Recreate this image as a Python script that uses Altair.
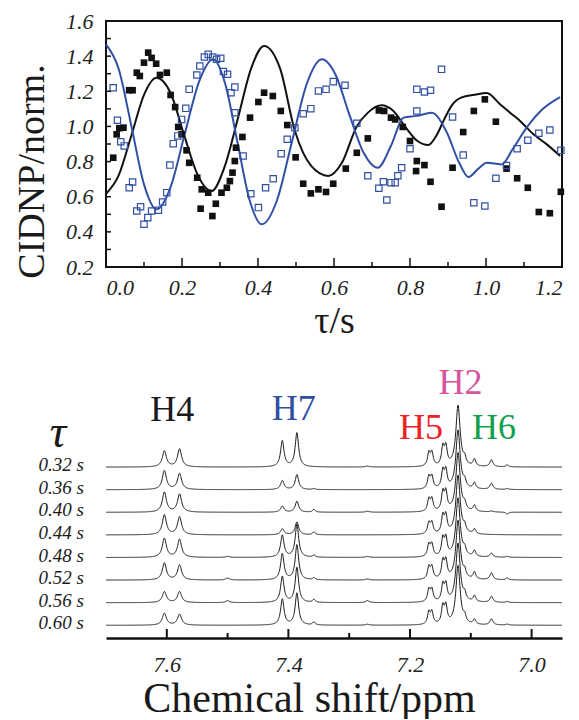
import altair as alt
import numpy as np
import pandas as pd

FONT = "Liberation Serif"
BLUE = "#3150a5"

# ---------------- top panel data ----------------
black_tau = [0.019, 0.028, 0.035, 0.046, 0.061, 0.070, 0.081, 0.089, 0.100, 0.111, 0.120, 0.132,
             0.142, 0.160, 0.170, 0.182, 0.190, 0.199, 0.212, 0.219, 0.240, 0.249, 0.252, 0.269,
             0.280, 0.289, 0.304, 0.318, 0.326, 0.333, 0.339, 0.342, 0.359, 0.379, 0.401, 0.416,
             0.439, 0.460, 0.477, 0.499, 0.519, 0.539, 0.559, 0.579, 0.598, 0.631, 0.660, 0.689,
             0.718, 0.732, 0.750, 0.761, 0.781, 0.800, 0.816, 0.818, 0.838, 0.854, 0.883, 0.912,
             0.940, 0.968, 0.997, 1.026, 1.054, 1.082, 1.110, 1.139, 1.168, 1.197]
black_val = [0.822, 0.955, 0.990, 0.993, 1.206, 1.206, 1.306, 1.287, 1.363, 1.420, 1.390, 1.357,
             1.293, 1.306, 1.179, 1.110, 0.997, 0.955, 0.864, 0.793, 0.708, 0.532, 0.642, 0.623,
             0.490, 0.560, 0.623, 0.651, 0.689, 0.737, 0.803, 0.879, 0.940, 1.050, 1.139, 1.192,
             1.173, 1.088, 1.008, 0.824, 0.674, 0.619, 0.642, 0.627, 0.674, 0.760, 0.850, 0.932,
             1.091, 1.088, 1.050, 1.040, 0.997, 0.917, 0.746, 0.803, 0.780, 0.685, 0.543, 0.765,
             0.968, 1.088, 1.154, 1.027, 0.760, 0.705, 0.651, 0.513, 0.506, 0.628]

blue_tau = [0.019, 0.030, 0.039, 0.048, 0.061, 0.070, 0.081, 0.091, 0.100, 0.110, 0.120, 0.138,
            0.149, 0.160, 0.168, 0.177, 0.189, 0.199, 0.210, 0.219, 0.239, 0.247, 0.259, 0.269,
            0.281, 0.291, 0.302, 0.309, 0.320, 0.329, 0.339, 0.339, 0.361, 0.381, 0.401, 0.420,
            0.440, 0.461, 0.477, 0.497, 0.519, 0.539, 0.559, 0.579, 0.598, 0.629, 0.660, 0.689,
            0.718, 0.730, 0.739, 0.750, 0.761, 0.768, 0.778, 0.800, 0.818, 0.818, 0.838, 0.854,
            0.883, 0.912, 0.940, 0.968, 0.997, 1.026, 1.054, 1.082, 1.110, 1.139, 1.168, 1.197]
blue_val = [1.220, 1.035, 0.913, 0.889, 0.651, 0.684, 0.519, 0.543, 0.443, 0.481, 0.519, 0.523,
            0.570, 0.623, 0.780, 0.902, 0.946, 1.040, 1.103, 1.211, 1.293, 1.344, 1.395, 1.410,
            1.395, 1.382, 1.388, 1.312, 1.297, 1.192, 1.224, 1.078, 0.832, 0.617, 0.538, 0.651,
            0.702, 0.845, 0.927, 0.993, 1.072, 1.101, 1.202, 1.211, 1.255, 1.234, 1.018, 0.719,
            0.648, 0.685, 0.581, 0.680, 0.680, 0.719, 0.765, 0.873, 1.088, 1.211, 1.196, 1.206,
            1.325, 1.054, 0.837, 0.566, 0.547, 0.705, 0.778, 0.873, 0.921, 0.961, 0.980, 0.864]

black_fit_tau = [0.000, 0.033, 0.067, 0.100, 0.133, 0.170, 0.205, 0.240, 0.278, 0.312, 0.347,
                 0.382, 0.416, 0.458, 0.497, 0.540, 0.585, 0.620, 0.660, 0.690, 0.725, 0.755,
                 0.785, 0.818, 0.848, 0.870, 0.890, 0.910, 0.936, 0.970, 1.002, 1.037, 1.065,
                 1.089, 1.125, 1.160, 1.195]
black_fit_val = [0.617, 0.720, 0.950, 1.180, 1.277, 1.190, 0.955, 0.730, 0.632, 0.770, 1.045,
                 1.330, 1.458, 1.330, 0.975, 0.775, 0.718, 0.790, 1.000, 1.080, 1.120, 1.090,
                 1.005, 0.920, 0.894, 0.950, 1.040, 1.120, 1.165, 1.180, 1.190, 1.126, 1.075,
                 1.033, 0.955, 0.898, 0.832]

blue_fit_tau = [0.000, 0.033, 0.067, 0.100, 0.133, 0.170, 0.207, 0.245, 0.282, 0.314, 0.346,
                0.378, 0.410, 0.450, 0.489, 0.528, 0.568, 0.605, 0.640, 0.678, 0.715, 0.750,
                0.783, 0.818, 0.857, 0.896, 0.930, 0.954, 0.980, 1.002, 1.041, 1.070, 1.107,
                1.150, 1.195]
blue_fit_val = [1.467, 1.330, 1.000, 0.670, 0.528, 0.655, 0.955, 1.255, 1.382, 1.240, 0.910,
                0.580, 0.443, 0.580, 0.910, 1.240, 1.382, 1.290, 1.070, 0.850, 0.765, 0.890,
                1.050, 1.060, 1.078, 0.970, 0.790, 0.712, 0.760, 0.793, 0.784, 0.870, 0.993,
                1.100, 1.167]

top_y_ticks = [0.2, 0.3, 0.4, 0.5, 0.6, 0.7, 0.8, 0.9, 1.0, 1.1, 1.2, 1.3, 1.4, 1.5, 1.6]
top_y_labels = [0.2, 0.4, 0.6, 0.8, 1.0, 1.2, 1.4, 1.6]
top_x_major = [0.0, 0.2, 0.4, 0.6, 0.8, 1.0, 1.2]
top_x_minor = [0.1, 0.3, 0.5, 0.7, 0.9, 1.1]

# ---------------- bottom panel data ----------------
tau_labels = ["0.32 s", "0.36 s", "0.40 s", "0.44 s", "0.48 s", "0.52 s", "0.56 s", "0.60 s"]
trace_offset = [170.9, 148.3, 125.7, 103.1, 80.5, 57.9, 35.3, 12.7]

peak_ppm = [7.604, 7.579, 7.500, 7.410, 7.386, 7.358, 7.270, 7.169, 7.164, 7.146, 7.141,
            7.121, 7.110, 7.094, 7.066, 7.040]
peak_hwhm = [0.0040, 0.0040, 0.0035, 0.0034, 0.0034, 0.0025, 0.0035, 0.0026, 0.0026, 0.0026,
             0.0026, 0.0042, 0.0024, 0.0026, 0.0030, 0.0025]
peak_heights = [
    [16, 19, 20, 20, 19, 17, 11, 12],
    [18, 16, 18, 18, 18, 15, 11, 11],
    [0, 0, 0, 0, 1, 2, 2, 0],
    [26, 9, 6, 6, 22, 26, 26, 26],
    [34, 15, 11, 13, 33, 35, 35, 32],
    [0, 1, 3, 3, 2, 2, 3, 3],
    [1, 0, 1, 0, 1, 1, 2, 1],
    [13, 12, 12, 11, 12, 12, 12, 12],
    [13, 12, 12, 11, 12, 12, 12, 12],
    [18, 17, 18, 17, 17, 17, 16, 17],
    [18, 17, 18, 17, 17, 17, 16, 17],
    [61, 59, 59, 59, 59, 59, 59, 59],
    [6, 6, 6, 6, 6, 6, 6, 6],
    [7, 6, 6, 5, 6, 7, 6, 5],
    [7, 6, 1, 0, 4, 7, 6, 6],
    [2, 1, -2, 0, 1, 2, 1, 1],
]

bottom_major = [7.6, 7.4, 7.2, 7.0]
bottom_minor = [7.5, 7.3, 7.1]

label_text = ["H4", "H7", "H2", "H5", "H6"]
label_ppm = [7.591, 7.391, 7.117, 7.182, 7.062]
label_y = [228, 229, 255, 210, 210]
label_color = ["#1a1a1a", "#2f4fa3", "#d6559e", "#ec2227", "#12a04b"]
tau_symbol_y = 205

# ---------------- build spectra ----------------
grid = np.round(np.arange(6.95, 7.70001, 0.0005), 4)
rows = []
for i, lab in enumerate(tau_labels):
    y = np.full(grid.shape, trace_offset[i], dtype=float)
    for p, g, hs in zip(peak_ppm, peak_hwhm, peak_heights):
        y += hs[i] / (1.0 + ((grid - p) / g) ** 2)
    for xv, yv in zip(grid, y):
        rows.append({"ppm": float(xv), "y": round(float(yv), 2), "tau": lab})
spec_df = pd.DataFrame(rows)

# ---------------- top chart ----------------
W = 456
H_TOP = 246
H_BOT = 268

x_axis_top = alt.Axis(values=top_x_major, format=".1f", title="τ/s", ticks=False, domain=False,
                      grid=False, labelPadding=10, titlePadding=4, labelFontStyle="italic",
                      labelFontSize=22, titleFontSize=38)
y_axis_top = alt.Axis(values=top_y_labels, format=".1f", title="CIDNP/norm.", ticks=False,
                      domain=False, grid=False, labelPadding=13, titlePadding=14,
                      labelFontStyle="italic", labelFontSize=22, titleFontSize=38, titleY=150)
xs = alt.Scale(domain=[0, 1.2], nice=False, zero=False)
ys = alt.Scale(domain=[0.2, 1.6], nice=False, zero=False)

def X(): return alt.X("tau:Q", scale=xs, axis=x_axis_top)
def Y(): return alt.Y("val:Q", scale=ys, axis=y_axis_top)

black_fit = alt.Chart(pd.DataFrame({"tau": black_fit_tau, "val": black_fit_val})).mark_line(
    color="#111111", strokeWidth=2, interpolate="monotone").encode(x=X(), y=Y())
blue_fit = alt.Chart(pd.DataFrame({"tau": blue_fit_tau, "val": blue_fit_val})).mark_line(
    color=BLUE, strokeWidth=2, interpolate="monotone").encode(x=X(), y=Y())
black_pts = alt.Chart(pd.DataFrame({"tau": black_tau, "val": black_val})).mark_point(
    shape="square", filled=True, size=44, color="#111111", opacity=1).encode(x=X(), y=Y())
blue_pts = alt.Chart(pd.DataFrame({"tau": blue_tau, "val": blue_val})).mark_point(
    shape="square", filled=False, size=40, color=BLUE, strokeWidth=1.2, opacity=1).encode(x=X(), y=Y())
yticks = alt.Chart(pd.DataFrame({"val": top_y_ticks})).mark_rule(color="#111", strokeWidth=1.5).encode(
    y=Y(), x=alt.value(0), x2=alt.value(5))
xmaj = alt.Chart(pd.DataFrame({"tau": top_x_major})).mark_rule(color="#111", strokeWidth=1.5).encode(
    x=X(), y=alt.value(H_TOP), y2=alt.value(H_TOP - 9))
xmin = alt.Chart(pd.DataFrame({"tau": top_x_minor})).mark_rule(color="#111", strokeWidth=1.5).encode(
    x=X(), y=alt.value(H_TOP), y2=alt.value(H_TOP - 5))

top = alt.layer(black_fit, blue_fit, black_pts, blue_pts, yticks, xmaj, xmin).properties(
    width=W, height=H_TOP, view=alt.ViewBackground(stroke="#111111", strokeWidth=2))

# ---------------- bottom chart ----------------
bxs = alt.Scale(domain=[6.95, 7.70], reverse=True, nice=False, zero=False)
bys = alt.Scale(domain=[0, H_BOT], nice=False, zero=False)
x_axis_bot = alt.Axis(values=bottom_major, format=".1f", title="Chemical shift/ppm", ticks=False,
                      domain=True, domainWidth=2.5, domainColor="#111111", grid=False,
                      labelPadding=16, titlePadding=3, labelFontStyle="italic", labelFontSize=22,
                      titleFontSize=42, titleX=203)

def BX(): return alt.X("ppm:Q", scale=bxs, axis=x_axis_bot)
def BY(): return alt.Y("y:Q", scale=bys, axis=None)

spectra = alt.Chart(spec_df).mark_line(color="#1a1a1a", strokeWidth=1).encode(
    x=BX(), y=BY(), detail="tau:N")
bmaj = alt.Chart(pd.DataFrame({"ppm": bottom_major})).mark_rule(color="#111", strokeWidth=2).encode(
    x=BX(), y=alt.value(H_BOT), y2=alt.value(H_BOT - 9))
bmin = alt.Chart(pd.DataFrame({"ppm": bottom_minor})).mark_rule(color="#111", strokeWidth=2).encode(
    x=BX(), y=alt.value(H_BOT), y2=alt.value(H_BOT - 5))
tau_txt = alt.Chart(pd.DataFrame({"y": trace_offset, "label": tau_labels})).mark_text(
    font=FONT, fontSize=19, fontStyle="italic", align="right", baseline="middle", dy=-2,
    color="#1a1a1a").encode(y=BY(), x=alt.value(-22), text="label:N")
tau_sym = alt.Chart(pd.DataFrame({"y": [tau_symbol_y], "label": ["τ"]})).mark_text(
    font=FONT, fontSize=46, fontStyle="italic", align="center", baseline="middle",
    color="#1a1a1a").encode(y=BY(), x=alt.value(-48), text="label:N")
peak_lbl = alt.Chart(pd.DataFrame({"ppm": label_ppm, "y": label_y, "label": label_text})).mark_text(
    font=FONT, fontSize=36, align="center", baseline="middle").encode(
    x=BX(), y=BY(), text="label:N",
    color=alt.Color("label:N", scale=alt.Scale(domain=label_text, range=label_color), legend=None))

bottom = alt.layer(spectra, bmaj, bmin, tau_txt, tau_sym, peak_lbl).properties(
    width=W, height=H_BOT, view=alt.ViewBackground(strokeWidth=0))

chart = alt.vconcat(top, bottom, spacing=23).properties(
    padding={"left": 4, "top": 1, "right": 0, "bottom": 0}
).configure_axis(
    labelFont=FONT, titleFont=FONT, titleFontWeight="normal", labelColor="#222222",
    titleColor="#1a1a1a"
).configure_view(strokeWidth=0)

chart.save("out.html", embed_options={"renderer": "svg", "actions": False})
